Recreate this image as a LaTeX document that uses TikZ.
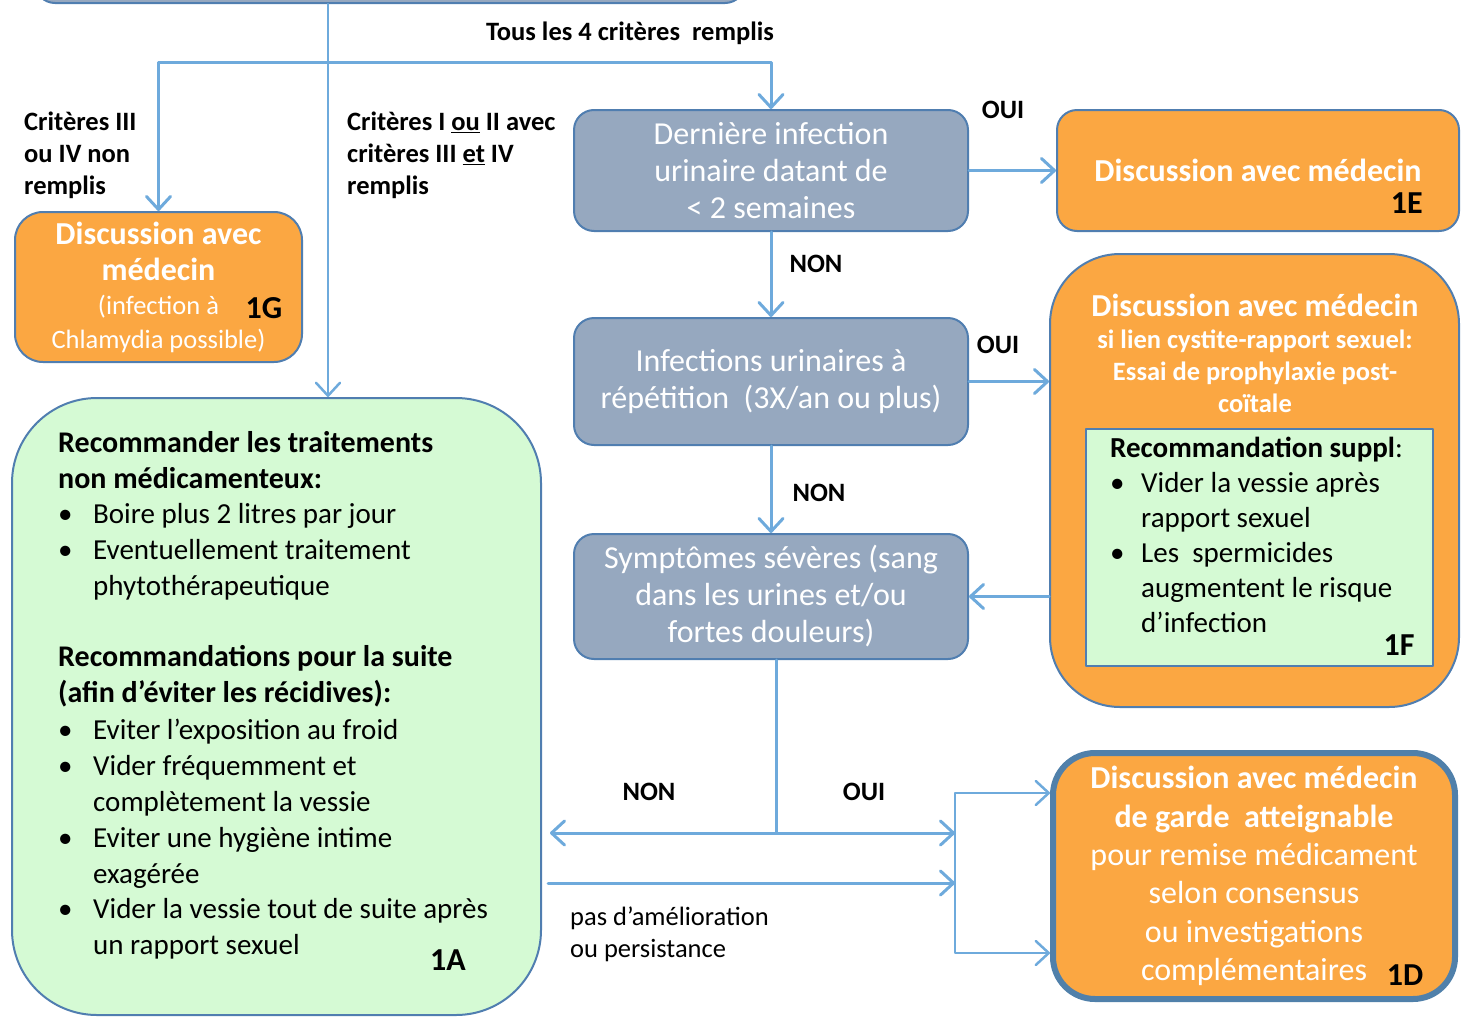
\documentclass[tikz,border=0pt]{standalone}
\usepackage{fontspec}
\setmainfont{Carlito}
\usetikzlibrary{arrows.meta,positioning}

\definecolor{boxline}{RGB}{80,126,176}
\definecolor{grayfill}{RGB}{150,168,191}
\definecolor{orangefill}{RGB}{251,167,66}
\definecolor{greenfill}{RGB}{213,250,212}
\definecolor{arrowblue}{RGB}{110,170,220}
\definecolor{gardeline}{RGB}{80,128,170}

\newcommand\bigbold{\bfseries\fontsize{32}{35}\selectfont}
\newcommand\bigtitle{\bfseries\fontsize{32}{35}\selectfont}
\newcommand\headline{\bfseries\fontsize{30}{36}\selectfont}
\newcommand\puce[2][31pt]{\makebox[#1][l]{\textbullet}#2}
\newcommand\suite[2][31pt]{\hspace*{#1}#2}

\tikzset{
  box/.style={draw=boxline, line width=2pt, rounded corners=20pt, inner sep=0pt, align=center},
  graybox/.style={box, fill=grayfill, text=white, minimum width=394pt, font=\fontsize{32}{37}\selectfont},
  orangebox/.style={box, fill=orangefill, text=white},
  greenbox/.style={box, fill=greenfill},
  lab/.style={inner sep=0pt, align=left, font=\bfseries\fontsize{26.5}{32}\selectfont},
  code/.style={inner sep=0pt, font=\bfseries\fontsize{32}{32}\selectfont},
  barb/.tip={Straight Barb[length=13pt,width=24pt,round]},
  cline/.style={draw=arrowblue, line width=3pt},
  flow/.style={cline, -barb}
}

\begin{document}
\begin{tikzpicture}[x=1pt,y=-1pt,line join=round,line cap=round]
  \useasboundingbox (0,0) rectangle (1461,1017);

  % boxes of the flow
  \node[graybox, minimum width=710pt, minimum height=60pt] (crit) at (390,-27) {};
  \node[graybox, minimum height=121pt] (last) at (771,170.5) {Dernière infection\\urinaire datant de\\< 2 semaines};
  \node[graybox, minimum height=127pt] (rep) at (771,381.5) {Infections urinaires à\\répétition~~(3X/an ou plus)};
  \node[graybox, minimum height=125pt] (sev) at (771,596.5) {Symptômes sévères (sang\\dans les urines et/ou\\fortes douleurs)};

  \node[orangebox, minimum width=402pt, minimum height=121pt, font=\bfseries\fontsize{32}{35}\selectfont] (doc) at (1258,170.5) {Discussion avec médecin};
  \node[code, anchor=base east] (lab1E) at (1423,213) {1E};

  \node[orangebox, minimum width=287pt, minimum height=150pt, rounded corners=28pt, font=\fontsize{26.5}{34}\selectfont] (chla) at (158.5,287) {\bigbold Discussion avec\\[2pt]\bigbold médecin\\(infection à\\Chlamydia possible)};
  \node[code] (lab1G) at (264,308) {1G};

  % 1F
  \node[orangebox, minimum width=409pt, minimum height=453pt, rounded corners=70pt] (prophy) at (1254.5,480.5) {};
  \node[inner sep=0pt, align=center, text=white, font=\bfseries\fontsize{26.5}{32}\selectfont] (prophytxt) at (1255,353) {\bigtitle Discussion avec médecin\\si lien cystite-rapport sexuel:\\Essai de prophylaxie post-\\coïtale};
  \node[greenbox, line width=1.2pt, rounded corners=0pt, minimum width=347pt, minimum height=237pt] (suppl) at (1259.5,547.5) {};
  \node[anchor=north west, inner sep=0pt, align=left, font=\fontsize{29}{35}\selectfont] (suppltxt) at (1110,437) {\textbf{Recommandation suppl}:\\\puce{Vider la vessie après}\\\suite{rapport sexuel}\\\puce{Les~~spermicides}\\\suite{augmentent le risque}\\\suite{d’infection}};
  \node[code] (lab1F) at (1399,645) {1F};

  % 1D
  \node[orangebox, draw=gardeline, line width=6pt, minimum width=402pt, minimum height=246pt, rounded corners=42pt, font=\fontsize{32}{38.4}\selectfont] (garde) at (1254,876) {\bigtitle Discussion avec médecin\\\bigtitle de garde~~atteignable\\pour remise médicament\\selon consensus\\ou investigations\\complémentaires};
  \node[code] (lab1D) at (1405,975) {1D};

  % 1A
  \node[greenbox, minimum width=529pt, minimum height=617pt, rounded corners=85pt] (reco) at (276.5,706.5) {};
  \node[anchor=north west, inner sep=0pt, align=left, font=\fontsize{29}{35.8}\selectfont] (recotxt) at (58,431) {\headline Recommander les traitements\\\headline non médicamenteux:\\\puce[35pt]{Boire plus 2 litres par jour}\\\puce[35pt]{Eventuellement traitement}\\\suite[35pt]{phytothérapeutique}\\[35pt]\headline Recommandations pour la suite\\\headline (afin d’éviter les récidives):\\[2pt]\puce[35pt]{Eviter l’exposition au froid}\\\puce[35pt]{Vider fréquemment et}\\\suite[35pt]{complètement la vessie}\\\puce[35pt]{Eviter une hygiène intime}\\\suite[35pt]{exagérée}\\\puce[35pt]{Vider la vessie tout de suite après}\\\suite[35pt]{un rapport sexuel}};
  \node[code] (lab1A) at (448,960) {1A};

  % labels
  \node[lab] (all4) at (630,33) {Tous les 4 critères~~remplis};
  \node[lab, anchor=west] (notIII) at (24,155) {Critères III\\ou IV non\\remplis};
  \node[lab, anchor=west] (oneortwo) at (347,155) {Critères I \underline{ou} II avec\\critères III \underline{et} IV\\remplis};
  \node[lab] (oui1) at (1003,110) {OUI};
  \node[lab] (non1) at (816,264) {NON};
  \node[lab] (oui2) at (998,345) {OUI};
  \node[lab] (non2) at (819,493) {NON};
  \node[lab] (non3) at (649,792) {NON};
  \node[lab] (oui3) at (864,792) {OUI};
  \node[anchor=west, inner sep=0pt, align=left, font=\fontsize{26.5}{32}\selectfont] (nobetter) at (570,934) {pas d’amélioration\\ou persistance};

  % connectors
  \coordinate (xa) at (328,0);
  \coordinate (split) at (328,62);
  \coordinate (fork) at (776,833);
  \coordinate (brk) at (955,0);
  \coordinate (btop) at (955,793);
  \coordinate (bbot) at (955,953);
  \coordinate (pa) at (548,883);

  \draw[flow, line width=2.5pt] (crit.south -| xa) -- (reco.north -| xa);
  \draw[flow] (split) -| (chla.north);
  \draw[flow] (split) -| (last.north);
  \draw[flow] (last) -- (doc);
  \draw[flow] (last) -- (rep);
  \draw[flow] (rep.east) -- (rep.east -| prophy.west);
  \draw[flow] (rep) -- (sev);
  \draw[flow] (sev.east -| prophy.west) -- (sev.east);
  \draw[cline] (sev.south -| fork) -- (fork);
  \draw[flow, shorten >=8pt] (fork) -- (fork -| reco.east);
  \draw[flow] (fork) -- (fork -| brk);
  \draw[flow] (pa) -- (pa -| brk);
  \draw[cline, line width=2.5pt, barb-barb] (btop -| garde.west) -- (btop) -- (bbot) -- (bbot -| garde.west);
\end{tikzpicture}
\end{document}
